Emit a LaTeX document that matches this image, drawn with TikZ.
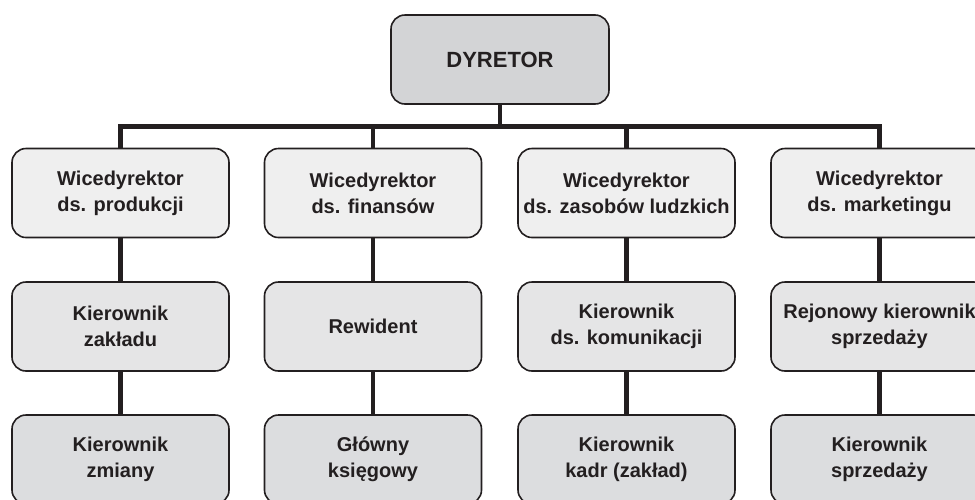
\documentclass[tikz,border=0pt]{standalone}
\usepackage{fontspec}
\setmainfont{Liberation Sans}
\definecolor{ink}{HTML}{231F20}
\definecolor{topfill}{HTML}{D3D4D6}
\definecolor{lvlone}{HTML}{EFEFEF}
\definecolor{lvltwo}{HTML}{E5E5E6}
\definecolor{lvlthree}{HTML}{DCDDDF}
\tikzset{
  orgbox/.style={draw=ink, line width=1.6pt, rounded corners=14pt,
    rectangle, minimum width=217pt, minimum height=89pt, inner sep=0pt,
    align=center, text=ink, font=\fontsize{20}{26}\selectfont\bfseries},
  headbox/.style={orgbox, fill=topfill, minimum width=218pt,
    font=\fontsize{22}{26}\selectfont\bfseries},
  vicebox/.style={orgbox, fill=lvlone},
  midbox/.style={orgbox, fill=lvltwo},
  lowbox/.style={orgbox, fill=lvlthree},
  link/.style={draw=ink, line width=4.6pt, line cap=butt, line join=miter}
}
\begin{document}
\begin{tikzpicture}[x=1pt, y=-1pt]
  \useasboundingbox (0,0) rectangle (975,499);

  % connectors first, so the boxes sit on top of them
  \coordinate (bar) at (500,126.5);
  \coordinate (c1) at (120.5,0);
  \coordinate (c2) at (373,0);
  \coordinate (c3) at (626.5,0);
  \coordinate (c4) at (879.5,0);

  % director
  \node[headbox] (dyr) at (500,59.5) {DYRETOR};

  % deputies
  \node[vicebox] (w1) at (120.5,193) {Wicedyrektor\\ds. produkcji};
  \node[vicebox] (w2) at (373,193) {Wicedyrektor\\ds. finansów};
  \node[vicebox] (w3) at (626.5,193) {Wicedyrektor\\ds. zasobów ludzkich};
  \node[vicebox] (w4) at (879.5,193) {Wicedyrektor\\ds. marketingu};

  % managers
  \node[midbox] (k1) at (120.5,326.5) {Kierownik\\zakładu};
  \node[midbox] (k2) at (373,326.5) {Rewident};
  \node[midbox] (k3) at (626.5,326.5) {Kierownik\\ds. komunikacji};
  \node[midbox] (k4) at (879.5,326.5) {Rejonowy kierownik\\sprzedaży};

  % lower level
  \node[lowbox] (m1) at (120.5,459.5) {Kierownik\\zmiany};
  \node[lowbox] (m2) at (373,459.5) {Główny\\księgowy};
  \node[lowbox] (m3) at (626.5,459.5) {Kierownik\\kadr (zakład)};
  \node[lowbox] (m4) at (879.5,459.5) {Kierownik\\sprzedaży};

  % tree lines
  \draw[link] (dyr.south) -- (dyr.south |- bar);
  \draw[link] (w1.north) -- (w1.north |- bar) -- (w4.north |- bar) -- (w4.north);
  \draw[link] (w2.north) -- (w2.north |- bar);
  \draw[link] (w3.north) -- (w3.north |- bar);

  \draw[link] (w1.south) -- (k1.north);
  \draw[link] (w2.south) -- (k2.north);
  \draw[link] (w3.south) -- (k3.north);
  \draw[link] (w4.south) -- (k4.north);

  \draw[link] (k1.south) -- (m1.north);
  \draw[link] (k2.south) -- (m2.north);
  \draw[link] (k3.south) -- (m3.north);
  \draw[link] (k4.south) -- (m4.north);
\end{tikzpicture}
\end{document}
